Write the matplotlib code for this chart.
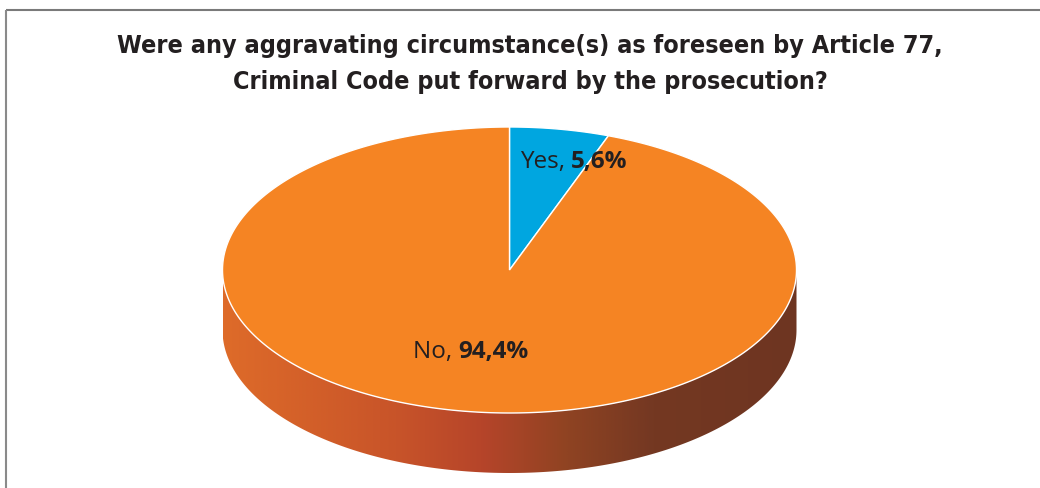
import numpy as np
import matplotlib
matplotlib.use("Agg")
from matplotlib import pyplot as plt
from matplotlib.patches import Polygon
from matplotlib.colors import LinearSegmentedColormap

title = ("Were any aggravating circumstance(s) as foreseen by Article 77,\n"
         "Criminal Code put forward by the prosecution?")
labels = ["Yes", "No"]
shares = [5.6, 94.4]
colors = ["#00A6E0", "#F58423"]

# side band shading, left to right
side_stops = [0.0, 0.3, 0.45, 0.6, 0.75, 1.0]
side_colors = ["#DE6B29", "#C85429", "#B6452A", "#8F4322", "#743822", "#6E3521"]

W, H = 1040, 488
cx, cy, rx, ry, depth = 509.5, 270.0, 287.0, 143.0, 60.0

fig = plt.figure(figsize=(W / 100, H / 100), dpi=100)
ax = fig.add_axes([0, 0, 1, 1])


def rim(theta_deg, dy=0.0):
    t = np.radians(theta_deg)
    return np.column_stack([cx + rx * np.sin(t), cy - ry * np.cos(t) + dy])


# front side band of the pie
front = np.linspace(90, 270, 200)
band = np.vstack([rim(front), rim(front[::-1], depth)])
band_patch = Polygon(band, closed=True, facecolor='none', edgecolor='none')
ax.add_patch(band_patch)
cmap = LinearSegmentedColormap.from_list("side", list(zip(side_stops, side_colors)))
grad = np.linspace(0, 1, 512)[None, :]
img = ax.imshow(grad, cmap=cmap, aspect='auto', interpolation='bilinear',
                extent=(cx - rx, cx + rx, cy + ry + depth, cy - 2), zorder=1)
img.set_clip_path(band_patch)

# top face: slices run clockwise from twelve o'clock
total = sum(shares)
start = 0.0
for share, col in zip(shares, colors):
    span = 360.0 * share / total
    arc = rim(np.linspace(start, start + span, max(int(span * 2), 4)))
    pts = np.vstack([[cx, cy], arc])
    ax.add_patch(Polygon(pts, closed=True, facecolor=col, edgecolor='white',
                         linewidth=1.0, zorder=2))
    start += span

# data labels: regular name, bold value
label_pos = [(571, 162), (458, 352)]
lab_font = ['Open Sans', 'DejaVu Sans']
for lab, share, (lx, ly) in zip(labels, shares, label_pos):
    val = f"{share:.1f}".replace('.', ',') + "%"
    t1 = ax.text(lx, ly, lab + ", ", fontsize=17.5, color='#231F20',
                 ha='right', va='center', zorder=3, family=lab_font)
    ax.annotate(val, xy=(1, 0), xycoords=t1, va='bottom', ha='left',
                fontsize=17.5, fontweight='bold', color='#231F20', zorder=3,
                family=lab_font)

ax.text(530, 64, title, ha='center', va='center', fontsize=18, fontweight='bold',
        fontstretch='condensed', family=['DejaVu Sans'],
        color='#231F20', linespacing=1.6)

# outer frame (top and left edges)
ax.plot([5.5, W], [9.5, 9.5], color='#7a7a7a', lw=1.5, solid_capstyle='butt')
ax.plot([5.5, 5.5], [9.5, H], color='#8a8a8a', lw=1.5, solid_capstyle='butt')

ax.set_xlim(0, W)
ax.set_ylim(H, 0)
ax.axis('off')
fig.savefig("out.png", dpi=100)
